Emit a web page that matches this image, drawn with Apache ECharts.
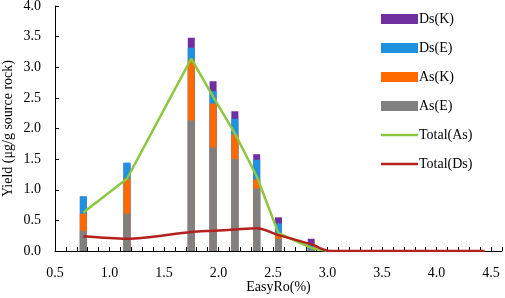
<!DOCTYPE html>
<html><head><meta charset="utf-8">
<script src="https://cdn.jsdelivr.net/npm/echarts@6/dist/echarts.min.js"></script>
<style>html,body{margin:0;padding:0;background:#fff}#c{width:505px;height:298px}</style>
</head><body><div id="c"></div>
<script>
const easyRo = [0.76, 1.16, 1.75, 1.95, 2.15, 2.35, 2.55, 2.85];
const asE = [0.33, 0.61, 2.13, 1.69, 1.50, 1.02, 0.20, 0.02];
const asK = [0.28, 0.57, 0.99, 0.72, 0.40, 0.15, 0.06, 0.00];
const dsE = [0.28, 0.26, 0.20, 0.20, 0.26, 0.32, 0.19, 0.10];
const dsK = [0.00, 0.00, 0.16, 0.16, 0.12, 0.09, 0.10, 0.08];
const totalAsX = [0.76, 1.16, 1.75, 1.95, 2.15, 2.35, 2.55, 2.85, 3.0];
const totalAs = [0.63, 1.18, 3.14, 2.52, 1.92, 1.22, 0.29, 0.05, 0.0];
const totalDsX = [0.76, 1.16, 1.75, 1.95, 2.15, 2.35, 2.55, 2.85, 3.02, 3.5, 4.0, 4.44];
const totalDs = [0.24, 0.20, 0.31, 0.33, 0.35, 0.37, 0.26, 0.11, 0.0, 0.0, 0.0, 0.0];
const xTicks = ['0.5', '1.0', '1.5', '2.0', '2.5', '3.0', '3.5', '4.0', '4.5'];

const pair = (xs, ys) => xs.map((x, i) => [x, ys[i]]);
// stacked bars: each layer drawn at its cumulative top, larger layers behind
const cum = (...layers) => easyRo.map((_, i) => layers.reduce((s, l) => s + l[i], 0));
const FONT = 'Liberation Serif';
const bar = (name, vals, color) => ({
  name, type: 'bar', barWidth: 7, barGap: '-100%', data: pair(easyRo, vals),
  itemStyle: { color }, emphasis: { disabled: true }
});
const chart = echarts.init(document.getElementById('c'), null, { renderer: 'canvas' });
chart.setOption({
  animation: false,
  textStyle: { fontFamily: FONT },
  grid: { left: 55, right: 3, top: 6, bottom: 47, containLabel: false, outerBoundsMode: 'none' },
  legend: {
    orient: 'vertical', left: 376, top: 7, itemWidth: 37, itemHeight: 10, itemGap: 15,
    textStyle: { fontFamily: FONT, fontSize: 14, color: '#000', padding: [0, 0, 0, -4] },
    data: [
      { name: 'Ds(K)', icon: 'rect' }, { name: 'Ds(E)', icon: 'rect' },
      { name: 'As(K)', icon: 'rect' }, { name: 'As(E)', icon: 'rect' },
      { name: 'Total(As)', icon: 'path://M0,0H37V2.5H0Z' },
      { name: 'Total(Ds)', icon: 'path://M0,0H37V2.5H0Z' }
    ]
  },
  xAxis: {
    type: 'value', min: 0.5, max: 4.6, interval: 0.5,
    name: 'EasyRo(%)', nameLocation: 'middle', nameGap: 29, nameMoveOverlap: false,
    nameTextStyle: { fontFamily: FONT, fontSize: 14, color: '#000' },
    axisLine: { show: true, onZero: false, lineStyle: { color: '#000', width: 1 } },
    axisTick: { show: true, inside: true, length: 4, lineStyle: { color: '#000' } },
    minorTick: { show: true, splitNumber: 5, length: 4, lineStyle: { color: '#000' } },
    axisLabel: { fontFamily: FONT, fontSize: 14, color: '#000', margin: 15, showMaxLabel: false,
      formatter: v => { const s = v.toFixed(1); return xTicks.includes(s) ? s : ''; } },
    splitLine: { show: false }
  },
  yAxis: {
    type: 'value', min: 0, max: 4, interval: 0.5,
    name: 'Yield (μg/g source rock)', nameLocation: 'middle', nameGap: 40, nameMoveOverlap: false,
    nameTextStyle: { fontFamily: FONT, fontSize: 14, color: '#000' },
    axisLine: { show: true, lineStyle: { color: '#000', width: 1 } },
    axisTick: { show: true, inside: true, length: 4, lineStyle: { color: '#000' } },
    axisLabel: { fontFamily: FONT, fontSize: 14, color: '#000', margin: 14, formatter: v => v.toFixed(1) },
    splitLine: { show: false }
  },
  series: [
    bar('Ds(K)', cum(asE, asK, dsE, dsK), '#7030A0'),
    bar('Ds(E)', cum(asE, asK, dsE), '#2090E0'),
    bar('As(K)', cum(asE, asK), '#FF6A00'),
    bar('As(E)', asE, '#808080'),
    { name: 'Total(As)', type: 'line', data: pair(totalAsX, totalAs), symbol: 'none',
      lineStyle: { color: '#8DC63F', width: 2.5 }, itemStyle: { color: '#8DC63F' } },
    { name: 'Total(Ds)', type: 'line', data: pair(totalDsX, totalDs), symbol: 'none', smooth: 0.3,
      lineStyle: { color: '#B3201E', width: 2.5 }, itemStyle: { color: '#B3201E' } }
  ]
});
</script></body></html>
